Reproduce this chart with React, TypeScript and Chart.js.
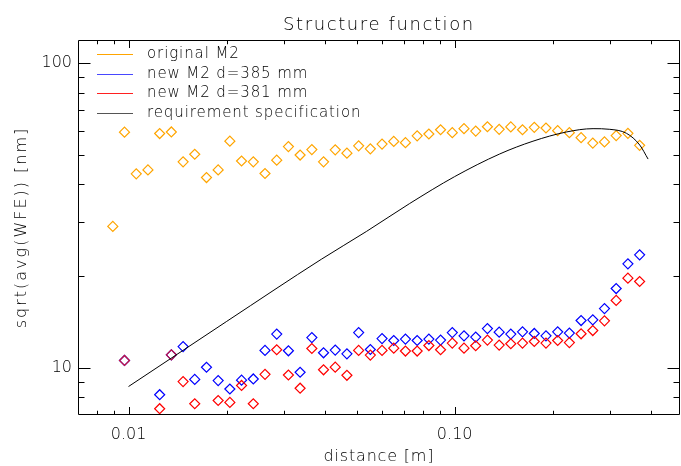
import React, { useEffect, useRef } from 'react';
import { Chart, registerables } from 'chart.js';

Chart.register(...registerables);

// ---- data ----
const distance = [0.00895, 0.00972, 0.01056, 0.01147, 0.01246, 0.01353, 0.0147, 0.01596, 0.01734, 0.01883, 0.02045, 0.02221, 0.02413, 0.02621, 0.02847, 0.03092, 0.03358, 0.03648, 0.03962, 0.04303, 0.04673, 0.05076, 0.05513, 0.05988, 0.06504, 0.07064, 0.07673, 0.08334, 0.09052, 0.09832, 0.1068, 0.116, 0.126, 0.1369, 0.1486, 0.1614, 0.1754, 0.1905, 0.2069, 0.2247, 0.2441, 0.2651, 0.2879, 0.3127, 0.3397, 0.369];

const originalM2 = [29.1, 59.3, 43.3, 44.6, 58.7, 59.4, 47.4, 50.2, 42.1, 44.6, 55.4, 47.7, 47.4, 43.4, 48.0, 53.2, 49.9, 52.0, 47.4, 51.9, 50.6, 53.5, 52.3, 54.2, 55.3, 54.8, 57.7, 58.5, 60.4, 59.1, 60.9, 59.8, 61.8, 60.6, 61.7, 60.4, 61.5, 61.2, 60.0, 59.1, 56.9, 54.6, 55.1, 57.8, 58.8, 53.7];

const newM2d385 = [null, 10.57, null, null, 8.16, 11.03, 11.74, 9.16, 10.04, 9.08, 8.52, 9.11, 9.19, 11.4, 12.9, 11.37, 9.67, 12.56, 11.2, 11.43, 11.11, 13.05, 11.48, 12.47, 12.29, 12.42, 12.29, 12.42, 12.33, 13.05, 12.73, 12.61, 13.45, 13.09, 12.9, 13.12, 12.96, 12.73, 13.12, 13.0, 14.29, 14.37, 15.64, 18.2, 21.93, 23.47];

const newM2d381 = [null, 10.57, null, null, 7.34, 11.03, 9.01, 7.62, null, 7.81, 7.7, 8.75, 7.62, 9.52, 11.46, 9.47, 8.57, 11.57, 9.85, 10.05, 9.45, 11.4, 11.01, 11.4, 11.6, 11.35, 11.35, 11.83, 11.46, 12.05, 11.6, 11.81, 12.33, 11.87, 11.99, 12.05, 12.2, 12.05, 12.29, 12.1, 12.93, 13.25, 14.26, 16.64, 19.68, 19.19];

const specDistance = [0.01, 0.02, 0.039, 0.0536, 0.0728, 0.1, 0.1374, 0.1738, 0.2202, 0.2656, 0.2989, 0.3363, 0.3694, 0.3917];
const specValue = [8.68, 14.2, 22.7, 28.0, 34.6, 42.4, 50.3, 55.4, 59.4, 60.9, 60.6, 58.8, 53.8, 48.4];

const seriesLabels = ['original M2', 'new M2 d=385 mm', 'new M2 d=381 mm', 'requirement specification'];
const seriesColors = ['#FFA500', '#0000FF', '#FF0000', '#000000'];
const legendColors = ['#FFA500', '#4848FF', '#FF2020', '#555555'];
const overlapColor = '#C8143C';

const xTickValues = [0.01, 0.1];
const xTickTexts = ['0.01', '0.10'];
const yTickValues = [10, 100];
const yTickTexts = ['10', '100'];

const titleText = 'Structure function';
const xTitle = 'distance [m]';
const yTitle = 'sqrt(avg(WFE)) [nm]';

const FONT = "'DejaVu Sans', sans-serif";
const WEIGHT = 200;

const toPoints = (xs: number[], ys: (number | null)[]) =>
  xs.map((x, i) => ({ x, y: ys[i] })).filter((p) => p.y !== null) as { x: number; y: number }[];

const labelFor = (vals: number[], texts: string[], v: number) => {
  for (let i = 0; i < vals.length; i++) {
    if (Math.abs(Math.log10(v) - Math.log10(vals[i])) < 1e-6) return texts[i];
  }
  return '';
};

const isNice = (v: number) => {
  const e = Math.floor(Math.log10(v) + 1e-9);
  const m = v / Math.pow(10, e);
  return Math.abs(m - Math.round(m)) < 1e-6;
};
const isMajor = (v: number) => {
  const l = Math.log10(v);
  return Math.abs(l - Math.round(l)) < 1e-6;
};

const idlPlugin = {
  id: 'idlFrame',
  afterDatasetsDraw(chart: any) {
    const { ctx, chartArea: a, scales } = chart;
    const xs = scales.x;
    const ys = scales.y;
    const L = Math.round(a.left) + 0.5;
    const R = Math.round(a.right) - 0.5;
    const T = Math.round(a.top) + 0.5;
    const B = Math.round(a.bottom) - 0.5;
    ctx.save();
    ctx.strokeStyle = '#000';
    ctx.lineWidth = 1;
    ctx.beginPath();
    ctx.rect(L, T, R - L, B - T);
    ctx.stroke();

    ctx.beginPath();
    xs.ticks.forEach((t: any) => {
      const v = t.value;
      if (!isNice(v)) return;
      const px = Math.round(xs.getPixelForValue(v)) + 0.5;
      if (px <= L + 1 || px >= R - 1) return;
      const len = isMajor(v) ? 7.5 : 3.75;
      ctx.moveTo(px, B);
      ctx.lineTo(px, B - len);
      ctx.moveTo(px, T);
      ctx.lineTo(px, T + len);
    });
    ys.ticks.forEach((t: any) => {
      const v = t.value;
      if (!isNice(v)) return;
      const py = Math.round(ys.getPixelForValue(v)) + 0.5;
      if (py <= T + 1 || py >= B - 1) return;
      const len = isMajor(v) ? 12 : 6;
      ctx.moveTo(L, py);
      ctx.lineTo(L + len, py);
      ctx.moveTo(R, py);
      ctx.lineTo(R - len, py);
    });
    ctx.stroke();

    // title
    ctx.fillStyle = '#000';
    ctx.font = `${WEIGHT} 18px ${FONT}`;
    (ctx as any).letterSpacing = '1.6px';
    ctx.textAlign = 'center';
    ctx.textBaseline = 'alphabetic';
    ctx.fillText(titleText, (a.left + a.right) / 2, 30);

    // x title
    ctx.font = `${WEIGHT} 16px ${FONT}`;
    (ctx as any).letterSpacing = '0.8px';
    ctx.fillText(xTitle, (a.left + a.right) / 2, 461);

    // y title
    ctx.save();
    ctx.translate(26, (a.top + a.bottom) / 2);
    ctx.rotate(-Math.PI / 2);
    ctx.textAlign = 'center';
    (ctx as any).letterSpacing = '2px';
    ctx.fillText(yTitle, 0, 0);
    ctx.restore();

    // legend
    ctx.font = `${WEIGHT} 15px ${FONT}`;
    (ctx as any).letterSpacing = '0.9px';
    ctx.textAlign = 'left';
    ctx.textBaseline = 'middle';
    seriesLabels.forEach((lab, i) => {
      const ly = Math.round(54 + i * 19.7);
      ctx.strokeStyle = legendColors[i];
      ctx.lineWidth = 1;
      ctx.beginPath();
      ctx.moveTo(97, ly + 0.5);
      ctx.lineTo(133, ly + 0.5);
      ctx.stroke();
      ctx.fillStyle = '#000';
      ctx.fillText(lab, 147, ly);
    });
    (ctx as any).letterSpacing = '0px';
    ctx.restore();
  },
};

// the canvas is slightly wider than the window so the plot frame reaches the right edge
const CANVAS_W = 686;
const CANVAS_H = 466;

export default function App() {
  const ref = useRef<HTMLCanvasElement | null>(null);
  useEffect(() => {
    if (!ref.current) return;
    const pointDs = (idx: number, ys: (number | null)[], order: number, extra: any = {}) => ({
      type: 'scatter' as const,
      label: seriesLabels[idx],
      data: toPoints(distance, ys),
      borderColor: seriesColors[idx],
      backgroundColor: 'rgba(0,0,0,0)',
      pointStyle: 'rectRot',
      pointRadius: 5,
      pointBorderWidth: 1.2,
      showLine: false,
      order,
      ...extra,
    });
    const chart = new Chart(ref.current, {
      type: 'scatter',
      data: {
        datasets: [
          pointDs(0, originalM2, 3),
          pointDs(1, newM2d385, 2),
          pointDs(2, newM2d381, 1, {
            pointBorderColor: (c: any) => {
              const p = c.raw;
              if (!p) return seriesColors[2];
              const i = distance.indexOf(p.x);
              return newM2d385[i] === newM2d381[i] ? overlapColor : seriesColors[2];
            },
          }),
          {
            type: 'line' as const,
            label: seriesLabels[3],
            data: toPoints(specDistance, specValue),
            borderColor: seriesColors[3],
            borderWidth: 1,
            pointRadius: 0,
            showLine: true,
            fill: false,
            order: 0,
            cubicInterpolationMode: 'monotone',
          } as any,
        ],
      },
      options: {
        animation: false,
        responsive: false,
        events: [],
        layout: { padding: { top: 40, right: 1, left: 0, bottom: 0 } },
        plugins: { legend: { display: false }, title: { display: false }, tooltip: { enabled: false } },
        scales: {
          x: {
            type: 'logarithmic',
            min: 0.007,
            max: 0.49,
            grid: { display: false, drawTicks: false },
            border: { display: false },
            ticks: {
              autoSkip: false,
              maxRotation: 0,
              padding: 10,
              color: '#000',
              font: { family: FONT, size: 16, weight: WEIGHT },
              callback: (v: any) => labelFor(xTickValues, xTickTexts, Number(v)),
            },
            afterFit: (s: any) => {
              s.height = 51;
              s.paddingLeft = 0;
              s.paddingRight = 0;
              s.paddingTop = 0;
              s.paddingBottom = 0;
            },
          },
          y: {
            type: 'logarithmic',
            min: 7,
            max: 119,
            grid: { display: false, drawTicks: false },
            border: { display: false },
            ticks: {
              autoSkip: false,
              padding: 6,
              color: '#000',
              font: { family: FONT, size: 16, weight: WEIGHT },
              callback: (v: any) => labelFor(yTickValues, yTickTexts, Number(v)),
            },
            afterFit: (s: any) => {
              s.width = 78;
              s.paddingTop = 0;
              s.paddingBottom = 0;
              s.paddingLeft = 0;
              s.paddingRight = 0;
            },
          },
        },
      } as any,
      plugins: [idlPlugin],
    });
    return () => chart.destroy();
  }, []);
  return (
    <div style={{ position: 'fixed', left: 0, top: 0, width: 681, height: 466, overflow: 'hidden', background: '#fff' }}>
      <canvas ref={ref} width={CANVAS_W} height={CANVAS_H} style={{ width: CANVAS_W, height: CANVAS_H, display: 'block' }} />
    </div>
  );
}
